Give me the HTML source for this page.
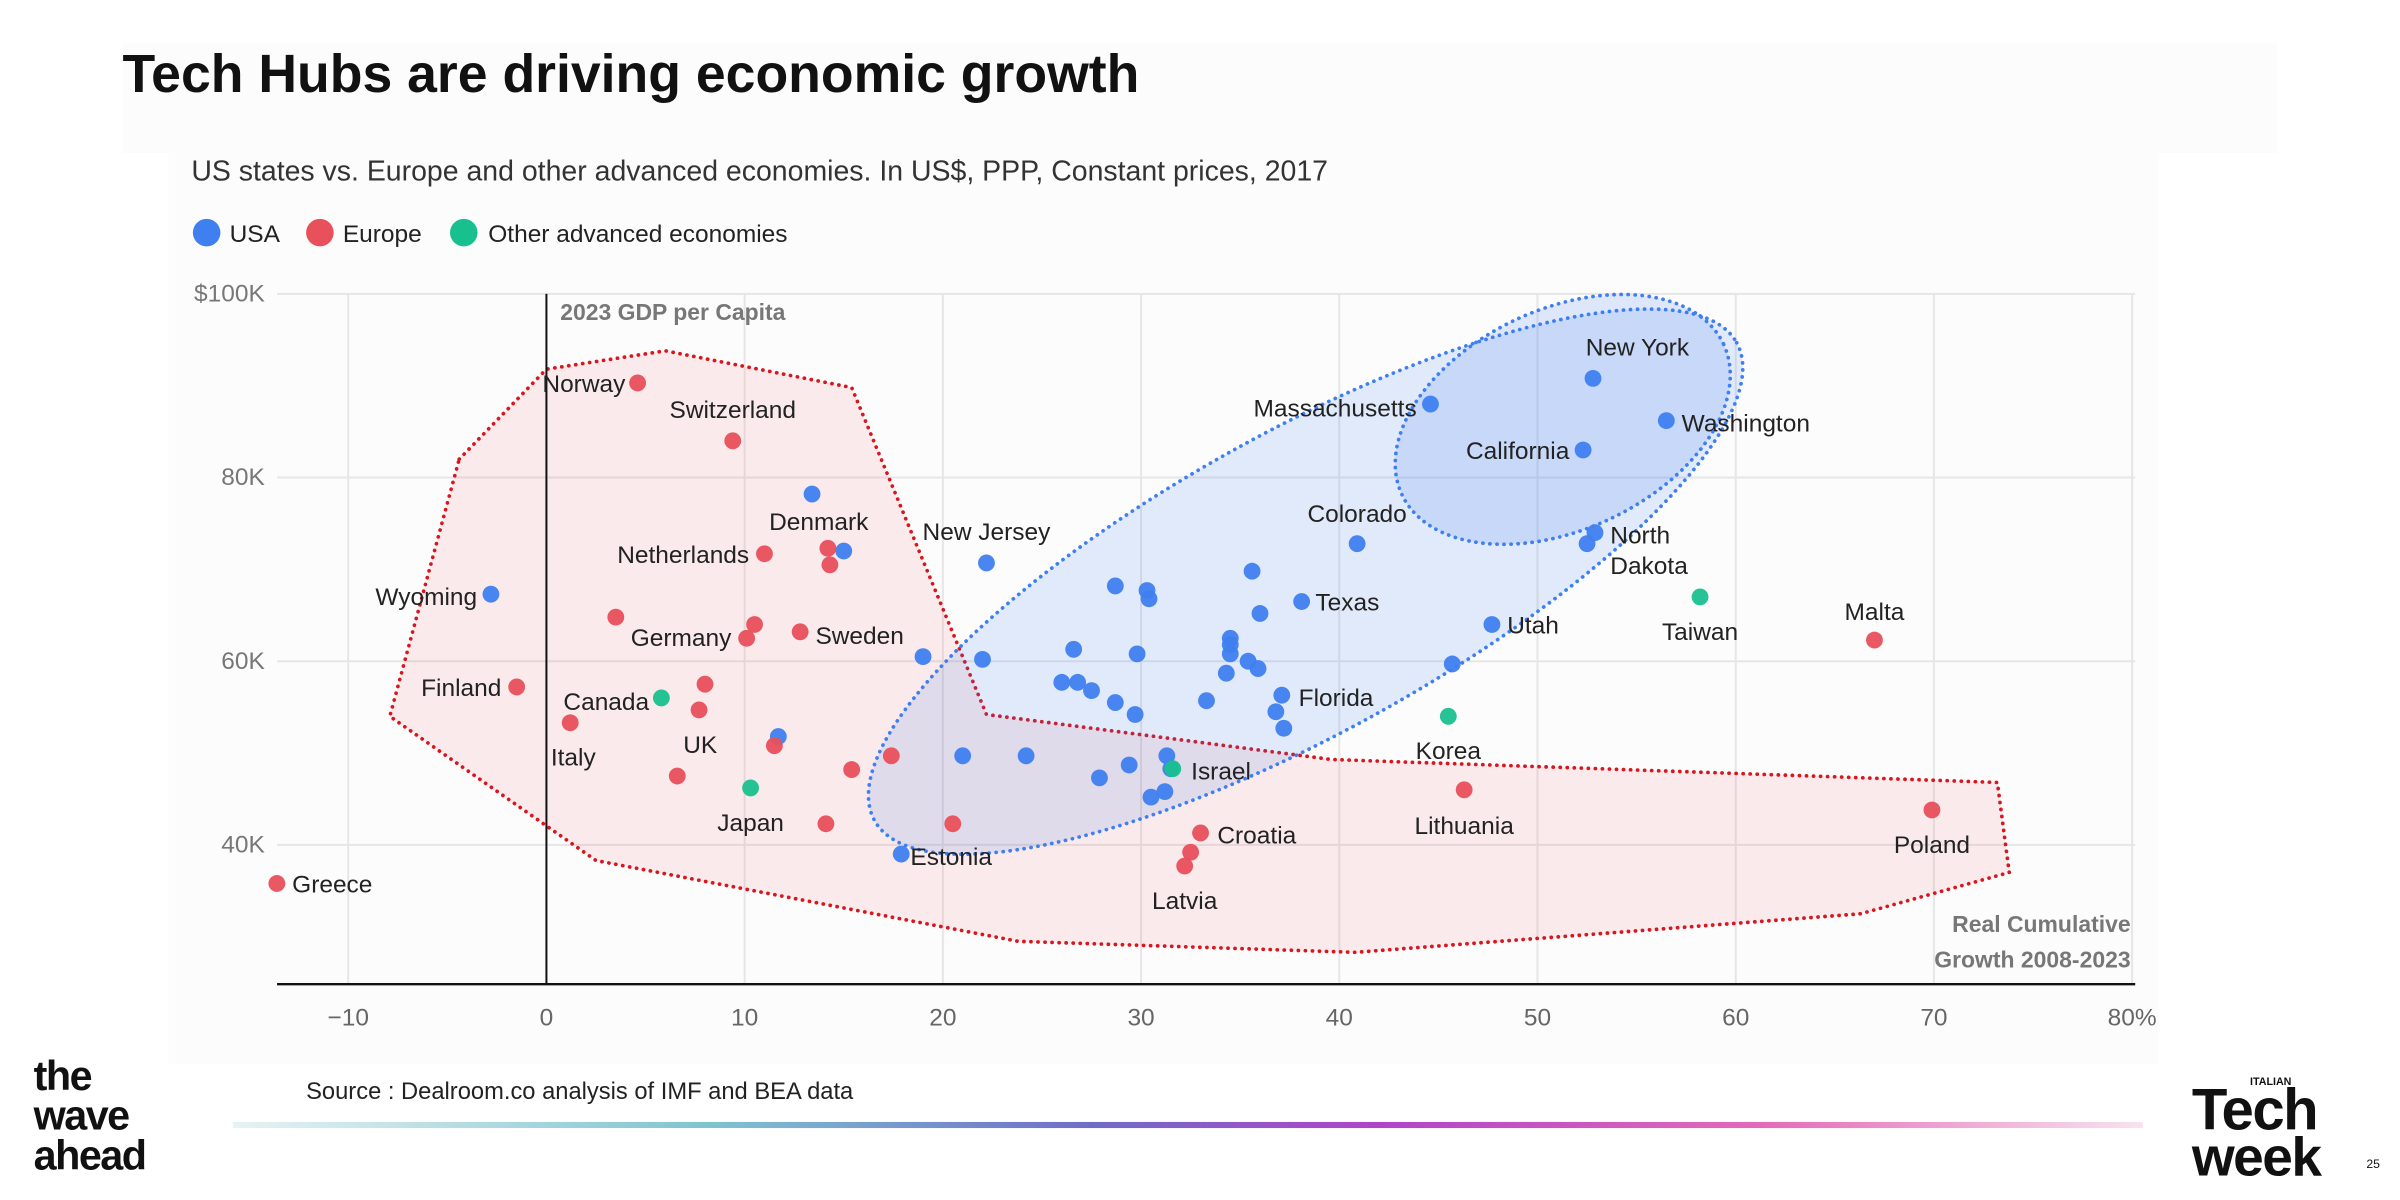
<!DOCTYPE html>
<html><head><meta charset="utf-8">
<style>
html,body{margin:0;padding:0;background:#fff;}
svg{display:block;font-family:"Liberation Sans",sans-serif;}
</style></head>
<body>
<svg id="chart" width="2400" height="1200" viewBox="0 0 1568 784" xmlns="http://www.w3.org/2000/svg">
<rect x="0" y="0" width="1568" height="784" fill="#ffffff"/>
<rect x="80" y="28" width="1408" height="72" fill="#fcfcfc"/>
<rect x="110" y="85" width="1300" height="610" fill="#fcfcfc"/>
<text x="80" y="60" font-size="35" font-weight="bold" fill="#111">Tech Hubs are driving economic growth</text>
<text x="125" y="118" font-size="18.6" fill="#333">US states vs. Europe and other advanced economies. In US$, PPP, Constant prices, 2017</text>
<g>
<circle cx="135" cy="152" r="9" fill="#3f7ff0"/>
<text x="150" y="158" font-size="16" fill="#222">USA</text>
<circle cx="209" cy="152" r="9" fill="#e8505b"/>
<text x="224" y="158" font-size="16" fill="#222">Europe</text>
<circle cx="303" cy="152" r="9" fill="#19c08f"/>
<text x="319" y="158" font-size="16" fill="#222">Other advanced economies</text>
</g>
<g id="grid"></g>
<g id="regions"></g>
<g id="axes"></g>
<g id="points"></g>
<g id="labels"></g>
<text x="366" y="209" font-size="15" font-weight="bold" fill="#777">2023 GDP per Capita</text>
<text x="1392" y="609" font-size="15" font-weight="bold" fill="#777" text-anchor="end">Real Cumulative</text>
<text x="1392" y="632" font-size="15" font-weight="bold" fill="#777" text-anchor="end">Growth 2008-2023</text>
<rect x="185" y="697" width="450" height="31" fill="#ffffff"/>
<text x="200" y="718" font-size="15.5" fill="#222">Source :  Dealroom.co analysis of IMF and BEA data</text>
<defs><linearGradient id="gl" x1="0" x2="1" y1="0" y2="0">
<stop offset="0" stop-color="#e6f3f3"/><stop offset="0.25" stop-color="#7fc3cf"/><stop offset="0.45" stop-color="#6f6cc8"/><stop offset="0.6" stop-color="#b044c8"/><stop offset="0.8" stop-color="#e46ab8"/><stop offset="1" stop-color="#f6e3ee"/></linearGradient></defs>
<rect x="152" y="733" width="1248" height="4" fill="url(#gl)"/>
<g font-weight="bold" font-size="27" fill="#111" letter-spacing="-1">
<text x="22" y="712">the</text><text x="22" y="738">wave</text><text x="22" y="764">ahead</text>
</g>
<g fill="#111" font-weight="bold">
<text x="1470" y="709" font-size="7">ITALIAN</text>
<text x="1432" y="738" font-size="38" letter-spacing="-1">Tech</text>
<text x="1432" y="768" font-size="36" letter-spacing="-1">week</text>
<text x="1546" y="763" font-size="8" font-weight="normal">25</text>
</g>
</svg>
<script>
// ---- data ----
const xTicks = [-10, 0, 10, 20, 30, 40, 50, 60, 70, 80];
const xTickLabels = ["−10", "0", "10", "20", "30", "40", "50", "60", "70", "80%"];
const yTicks = [40, 60, 80, 100];
const yTickLabels = ["40K", "60K", "80K", "$100K"];

const europeX = [4.6, 9.4, 11.0, 14.2, 14.3, 3.5, 10.5, 10.1, 12.8, -1.5, 8.0, 7.7, 1.2, 11.5, 6.6, 15.4, 17.4, 14.1, 20.5, -13.6, 33.0, 32.5, 32.2, 46.3, 69.9, 67.0];
const europeY = [90.3, 84.0, 71.7, 72.3, 70.5, 64.8, 64.0, 62.5, 63.2, 57.2, 57.5, 54.7, 53.3, 50.8, 47.5, 48.2, 49.7, 42.3, 42.3, 35.8, 41.3, 39.2, 37.7, 46.0, 43.8, 62.3];

const otherX = [5.8, 10.3, 31.6, 45.5, 58.2];
const otherY = [56.0, 46.2, 48.3, 54.0, 67.0];

const usaX = [-2.8, 13.4, 15.0, 11.7, 22.2, 19.0, 22.0, 21.0, 24.2, 17.9, 44.6, 52.8, 56.5, 52.3, 40.9, 52.9, 52.5, 38.1, 47.7, 37.1,
  28.7, 30.3, 30.4, 35.6, 26.6, 29.8, 34.5, 34.5, 34.5, 35.9, 35.4, 34.3, 36.0, 26.0, 26.8, 27.5, 28.7, 29.7, 33.3, 36.8, 37.2, 45.7, 27.9, 29.4, 31.3, 31.2, 30.5, 31.5];
const usaY = [67.3, 78.2, 72.0, 51.8, 70.7, 60.5, 60.2, 49.7, 49.7, 39.0, 88.0, 90.8, 86.2, 83.0, 72.8, 74.0, 72.8, 66.5, 64.0, 56.3,
  68.2, 67.7, 66.8, 69.8, 61.3, 60.8, 62.5, 61.8, 60.8, 59.2, 60.0, 58.7, 65.2, 57.7, 57.7, 56.8, 55.5, 54.2, 55.7, 54.5, 52.7, 59.7, 47.3, 48.7, 49.7, 45.8, 45.2, 48.3];

// labels: [text, series, index, dx, dy, anchor]
const pointLabels = [
  ["Norway","europe",0,-8,6,"end"],["Switzerland","europe",1,0,-15,"middle"],["Netherlands","europe",2,-10,6,"end"],
  ["Denmark","europe",3,-6,-12,"middle"],["Germany","europe",7,-10,5,"end"],["Sweden","europe",8,10,8,"start"],
  ["Finland","europe",9,-10,6,"end"],["Italy","europe",12,2,28,"middle"],["UK","europe",14,15,-15,"middle"],
  ["Greece","europe",19,10,6,"start"],["Croatia","europe",20,11,7,"start"],["Latvia","europe",22,0,28,"middle"],
  ["Lithuania","europe",23,0,29,"middle"],["Poland","europe",24,0,28,"middle"],["Malta","europe",25,0,-13,"middle"],
  ["Canada","other",0,-8,8,"end"],["Japan","other",1,0,28,"middle"],["Israel","other",2,12,7,"start"],
  ["Korea","other",3,0,28,"middle"],["Taiwan","other",4,0,28,"middle"],
  ["Wyoming","usa",0,-9,7,"end"],["New Jersey","usa",4,0,-15,"middle"],["Estonia","usa",9,6,7,"start"],
  ["Massachusetts","usa",10,-9,8,"end"],["New York","usa",11,29,-15,"middle"],["Washington","usa",12,10,7,"start"],
  ["California","usa",13,-9,6,"end"],["Colorado","usa",14,0,-14,"middle"],["North","usa",15,10,7,"start"],
  ["Dakota","usa",15,10,27,"start"],["Texas","usa",17,9,6,"start"],["Utah","usa",18,10,6,"start"],["Florida","usa",19,11,7,"start"]
];

// Europe hull outline (data units)
const hullX = [-4.4, 0, 6.0, 15.4, 22.2, 39.6, 73.2, 73.8, 66.3, 40.8, 23.8, 2.5, -7.9];
const hullY = [82, 91.8, 93.8, 89.8, 54.2, 49.3, 46.8, 37, 32.5, 28.3, 29.5, 38.3, 54];

// ---- scales ----
const X0 = 357, XU = 12.95, Y100 = 192, YU = 6;
const sx = v => X0 + v * XU;
const sy = v => Y100 + (100 - v) * YU;
const L = 181, R = 1395, B = 643;
const NS = "http://www.w3.org/2000/svg";
function mk(tag, attrs, parent, txt) {
  const e = document.createElementNS(NS, tag);
  for (const k in attrs) e.setAttribute(k, attrs[k]);
  if (txt !== undefined) e.textContent = txt;
  parent.appendChild(e);
  return e;
}
const grid = document.getElementById("grid");
const axes = document.getElementById("axes");
xTicks.forEach((t, i) => {
  const ln = mk("line", {x1: sx(t), x2: sx(t), y1: sy(100), y2: B, stroke: "#e6e6e6", "stroke-width": 1.3}, grid);
  
  
  const tl = mk("text", {x: sx(t), y: 670, "font-size": 16, fill: "#666", "text-anchor": "middle"}, axes, xTickLabels[i]);
  
  
});
yTicks.forEach((t, i) => {
  const ln = mk("line", {x1: L, x2: R, y1: sy(t), y2: sy(t), stroke: "#e6e6e6", "stroke-width": 1.3}, grid);
  
  
  const tl = mk("text", {x: 173, y: sy(t) + 5, "font-size": 16, fill: "#777", "text-anchor": "end"}, axes, yTickLabels[i]);
  
  
});
const zl = mk("line", {x1: sx(0), x2: sx(0), y1: sy(100), y2: B, stroke: "#111", "stroke-width": 1.3}, axes);


const xa = mk("line", {x1: L, x2: R, y1: B, y2: B, stroke: "#111", "stroke-width": 1.6}, axes);



// regions
const regions = document.getElementById("regions");
const hp = hullX.map((x, i) => sx(x) + "," + sy(hullY[i])).join(" ");
const hull = mk("polygon", {points: hp, fill: "rgba(232,80,91,0.1)", stroke: "#d9161e", "stroke-width": 2.4, "stroke-dasharray": "0.1 4.5", "stroke-linecap": "round"}, regions);


const e1 = mk("ellipse", {cx: 853, cy: 380, rx: 322, ry: 98, transform: "rotate(-29 853 380)", fill: "rgba(66,125,240,0.14)", stroke: "#3f7ff0", "stroke-width": 2.4, "stroke-dasharray": "0.1 4.5", "stroke-linecap": "round"}, regions);


const e2 = mk("ellipse", {cx: 1021, cy: 274, rx: 116, ry: 72, transform: "rotate(-25 1021 274)", fill: "rgba(66,125,240,0.16)", stroke: "#3f7ff0", "stroke-width": 2.4, "stroke-dasharray": "0.1 4.5", "stroke-linecap": "round"}, regions);



// points
const pts = document.getElementById("points");
const series = {usa: [usaX, usaY, "#3f7ff0"], europe: [europeX, europeY, "#e8505b"], other: [otherX, otherY, "#19c08f"]};
["usa", "europe", "other"].forEach(s => {
  const [xs, ys, c] = series[s];
  xs.forEach((x, i) => {
    const p = mk("circle", {cx: sx(x), cy: sy(ys[i]), r: 5.5, fill: c, "fill-opacity": 0.95}, pts);
    
    
  });
});

// labels
const labs = document.getElementById("labels");
pointLabels.forEach(l => {
  const [t, s, i, dx, dy, a] = l;
  const [xs, ys] = series[s];
  const el = mk("text", {x: sx(xs[i]) + dx, y: sy(ys[i]) + dy, "font-size": 16, fill: "#222", "text-anchor": a}, labs, t);
  
  
});
</script>
</body></html>
